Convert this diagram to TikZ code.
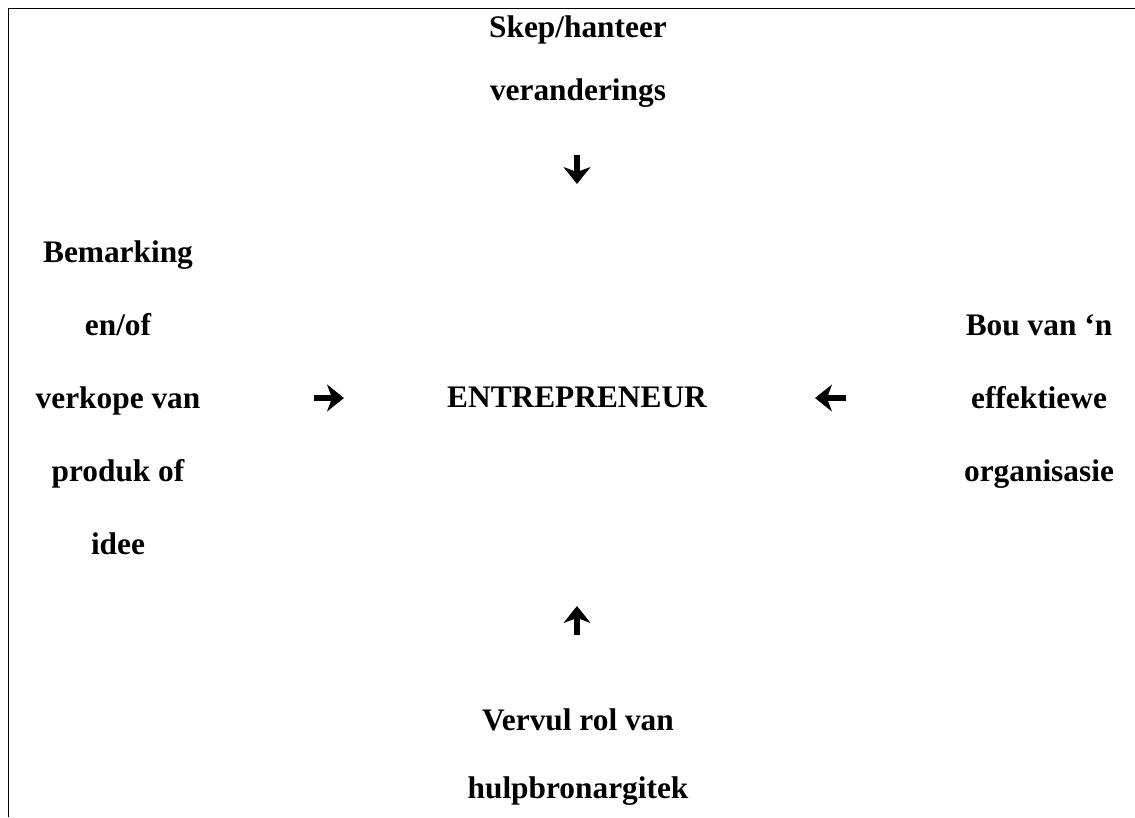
\documentclass[tikz,border=0pt]{standalone}
\usepackage{fontspec}
\setmainfont{Liberation Serif}
\usetikzlibrary{positioning, arrows.meta}

\begin{document}
\begin{tikzpicture}[x=0.025cm, y=-0.025cm,
    woord/.style={font=\bfseries\fontsize{22.3}{26}\selectfont, anchor=base, inner sep=0pt},
    pyl/.style={line width=3.8pt, -{Stealth[width=19pt, length=12pt, inset=3.5pt]}}]
    \useasboundingbox (0, 0) rectangle (1135, 817);
    \draw [line width=1.3pt] (1135, 8.5) -- (8.5, 8.5) -- (8.5, 817);

    % teks
    \node [woord] (middel) at (577, 407) {ENTREPRENEUR};
    \foreach \t [count=\i] in {Skep/hanteer, veranderings} {
        \node [woord] (bo\i) at (578, 37 + 63*\i - 63) {\t};
    }
    \foreach \t [count=\i] in {Bemarking, en/of, verkope van, produk of, idee} {
        \node [woord] (links\i) at (118, 262 + 73*\i - 73) {\t};
    }
    \foreach \t [count=\i] in {Bou van `n, effektiewe, organisasie} {
        \node [woord] (regs\i) at (1039, 335 + 73*\i - 73) {\t};
    }
    \foreach \t [count=\i] in {Vervul rol van, hulpbronargitek} {
        \node [woord] (onder\i) at (578, 730 + 68*\i - 68) {\t};
    }

    % pyle
    \coordinate (bo-a) at (577, 155);
    \coordinate (bo-b) at (577, 184);
    \coordinate (links-a) at (314, 398);
    \coordinate (links-b) at (344, 398);
    \coordinate (regs-a) at (846, 398);
    \coordinate (regs-b) at (815, 398);
    \coordinate (onder-a) at (577, 635);
    \coordinate (onder-b) at (577, 606);
    \draw [pyl] (bo-a) -- (bo-b);
    \draw [pyl] (links-a) -- (links-b);
    \draw [pyl] (regs-a) -- (regs-b);
    \draw [pyl] (onder-a) -- (onder-b);
\end{tikzpicture}
\end{document}
